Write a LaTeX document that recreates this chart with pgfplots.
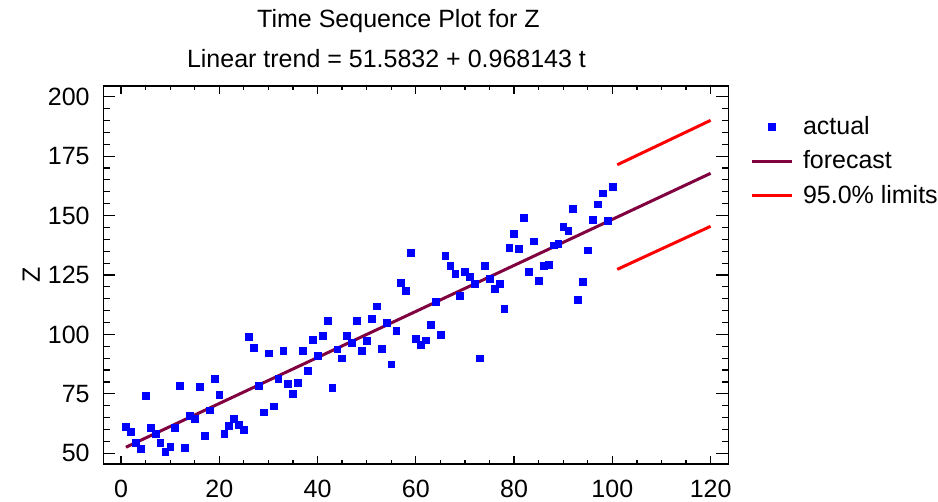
\documentclass[border=0pt]{standalone}
\usepackage{pgfplots}
\pgfplotsset{compat=1.18}
\usepackage{fontspec}
\setmainfont{Liberation Sans}
\definecolor{fc}{RGB}{128,0,64}
\pgfplotsset{
  lineleg/.style={legend image code/.code={\draw[##1] (0pt,0pt) -- (20pt,0pt);}},
  markleg/.style={legend image code/.code={\path (0pt,0pt) (20pt,0pt); \draw[##1] plot coordinates {(10pt,0pt)};}},
}
\pgfplotstableread{
t z
1 61.2
2 59.1
3 54.6
4 52.1
5 74.3
6 60.8
7 58.4
8 54.5
9 50.7
10 52.8
11 60.8
12 78.5
13 52.4
14 65.8
15 64.5
16 78.1
17 57.4
18 68.1
19 81.3
20 74.7
21 58.2
22 61.5
23 64.7
24 61.9
25 59.8
26 99.1
27 94.5
28 78.5
29 67.3
30 92.1
31 69.8
32 81.3
33 93.0
34 79.3
35 75.1
36 79.8
37 93.0
38 84.7
39 97.9
40 91.1
41 99.5
42 105.8
43 77.6
44 93.8
45 90.0
46 99.4
47 96.6
48 105.8
49 93.2
50 97.5
51 106.5
52 111.9
53 94.1
54 104.9
55 87.5
56 101.5
57 121.8
58 118.5
59 134.5
60 98.3
61 95.8
62 97.6
63 104.1
64 113.6
65 99.9
66 133.0
67 128.8
68 125.6
69 116.3
70 126.4
71 124.2
72 121.5
73 90.0
74 128.8
75 123.6
76 119.4
77 121.5
78 110.7
79 136.6
80 142.4
81 136.2
82 149.0
83 126.4
84 139.2
85 122.6
86 128.8
87 129.2
88 137.5
89 138.3
90 145.4
91 143.7
92 152.8
93 114.5
94 122.2
95 135.4
96 148.2
97 154.8
98 159.4
99 147.8
100 162.2
}\actual
\begin{document}
\begin{tikzpicture}[font=\fontsize{12.5}{15}\selectfont]
\useasboundingbox (-51.65pt,-19pt) rectangle (417.35pt,232pt);
\begin{axis}[
  scale only axis, width=312.5pt, height=189pt,
  xmin=-3.6, xmax=123.6, ymin=45.5, ymax=204.5,
  xtick={0,20,...,120}, ytick={50,75,...,200},
  minor x tick num=3, minor y tick num=4,
  tick align=inside,
  xtick style={/pgfplots/major tick length=3.9pt,/pgfplots/minor tick length=2pt},
  ytick style={/pgfplots/major tick length=6pt,/pgfplots/minor tick length=3.3pt},
  every tick/.append style={black, line width=0.6pt},
  axis line style={line width=0.6pt},
  /pgf/number format/assume math mode=true,
  yticklabel style={xshift=-3.3pt},
  xticklabel style={yshift=-4.3pt},
  ylabel={Z},
  ylabel style={at={(axis description cs:-0.1152,0.5)}, anchor=center},
  legend cell align=left,
  legend style={draw=none, fill=none, at={(axis description cs:1,1)}, anchor=north west,
    xshift=10.85pt, yshift=-15.2pt, inner sep=0pt, outer sep=0pt,
    row sep=6.65pt, column sep=5pt, nodes={inner sep=0pt}},
]
\addplot[only marks, mark=square*, mark size=1.7pt, mark options={fill=blue, draw=blue, line width=0.2pt}, markleg]
  table[x=t, y=z] {\actual};
\addlegendentry{actual}
\addplot[fc, line width=1.5pt, no marks, lineleg]
  coordinates {(1,52.551) (120,167.760)};
\addlegendentry{forecast}
\addplot[red, line width=1.5pt, no marks, lineleg]
  coordinates {(101,171.36) (105,175.29) (110,180.20) (115,185.12) (120,190.05)};
\addlegendentry{95.0\% limits}
\addplot[red, line width=1.5pt, no marks, forget plot]
  coordinates {(101,127.36) (105,131.19) (110,135.96) (115,140.72) (120,145.47)};
\end{axis}
\node[anchor=base] at (147.6pt,218pt) {Time Sequence Plot for Z};
\node[anchor=base] at (141.6pt,198pt) {Linear trend = 51.5832 + 0.968143 t};
\end{tikzpicture}
\end{document}
